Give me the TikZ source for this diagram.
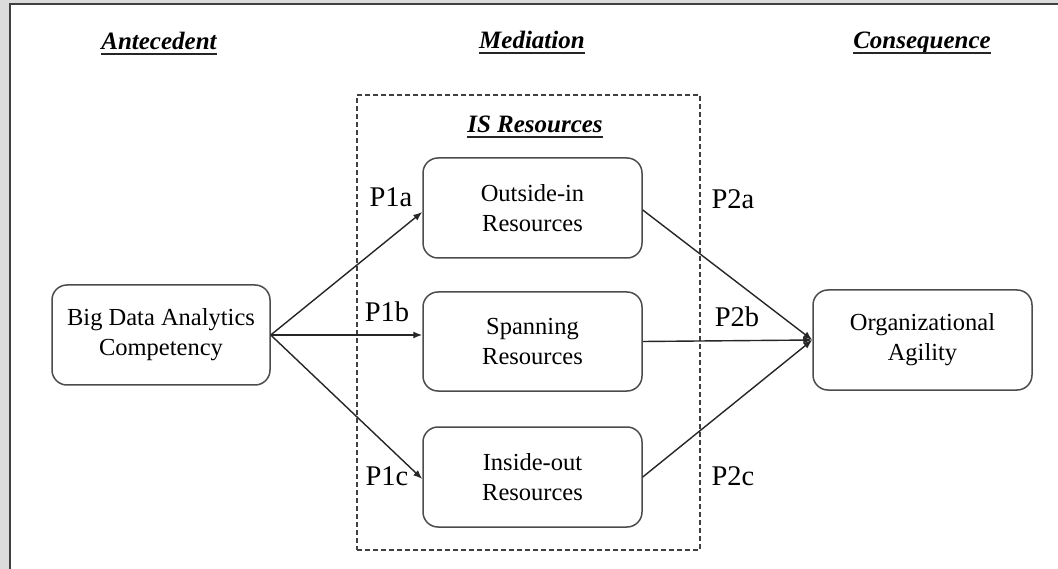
\documentclass[tikz,border=0pt]{standalone}
\usepackage{fontspec}
\setmainfont{Liberation Serif}
\usetikzlibrary{arrows.meta}
\begin{document}
\begin{tikzpicture}[x=1pt,y=-1pt,
  box/.style={draw=black!70, line width=1.5pt, rounded corners=15pt, minimum width=219pt, minimum height=100pt, inner sep=0pt, align=center, font=\fontsize{24.5}{30}\selectfont},
  head/.style={anchor=base, inner sep=0pt, font=\fontsize{25}{28}\selectfont\bfseries\itshape},
  lab/.style={anchor=base, inner sep=0pt, font=\fontsize{28.5}{30}\selectfont},
  conn/.style={line width=1.4pt, draw=black!85},
  arr/.style={conn, -{Latex[length=9pt,width=7pt]}},
  uline/.style={line width=2.2pt, black!85},
  dbox/.style={draw=black!75, line width=1.2pt, dash pattern=on 5pt off 3pt, minimum width=343pt, minimum height=455pt, inner sep=0pt}
]
\useasboundingbox (0,0) rectangle (1058,569);
% frame
\fill[black!14] (0,0) rectangle (1058,569);
\fill[white] (10,4) rectangle (1058,569);
\draw[black!75, line width=1.6pt] (10,569) -- (10,4) -- (1058,4);

% headers
\node[head] (ante) at (159,50) {Antecedent};
\node[head] (medi) at (532,49) {Mediation};
\node[head] (cons) at (922,49) {Consequence};
\node[head] (isr) at (535,133) {IS Resources};
\foreach \n in {ante,medi,cons,isr}
  \draw[uline] ([yshift=-4pt]\n.base west) -- ([yshift=-4pt]\n.base east);

% dashed box
\node[dbox] (dash) at (528.5,322.5) {};

% nodes
\node[box, minimum width=218pt] (bda) at (161,335) {Big Data Analytics\\Competency};
\node[box] (oi) at (532.5,208) {Outside-in\\Resources};
\node[box, minimum height=99pt] (sp) at (532.5,341.5) {Spanning\\Resources};
\node[box] (io) at (532.5,477) {Inside-out\\Resources};
\node[box] (oa) at (922.5,340) {Organizational\\Agility};

% connectors
\draw[arr] (bda.east) -- ([yshift=-4pt]oi.west);
\draw[arr] (bda.east) -- (bda.east -| sp.west);
\draw[arr] (bda.east) -- ([yshift=-2pt]io.west);
\draw[arr] ([yshift=-2pt]oi.east) -- (oa.west);
\draw[arr] (sp.east) -- (oa.west);
\draw[arr] (io.east) -- (oa.west);

% labels
\node[lab] (p1a) at (391,207) {P1a};
\node[lab] (p1b) at (387,322) {P1b};
\node[lab] (p1c) at (387,485) {P1c};
\node[lab] (p2a) at (733,209) {P2a};
\node[lab] (p2b) at (737,327) {P2b};
\node[lab] (p2c) at (733,485) {P2c};
\end{tikzpicture}
\end{document}
